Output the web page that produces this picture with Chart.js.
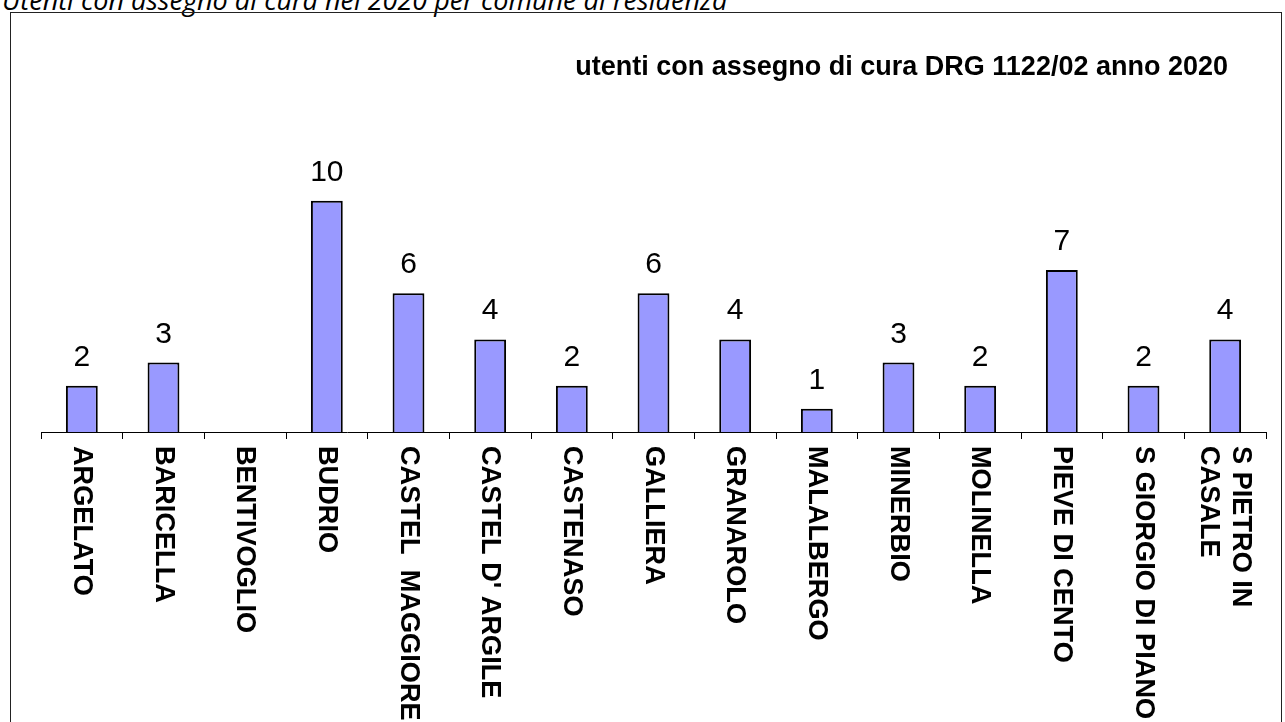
<!DOCTYPE html>
<html>
<head>
<meta charset="utf-8">
<script src="https://cdn.jsdelivr.net/npm/chart.js@4"></script>
<style>
    body { margin: 0; width: 1285px; height: 722px; overflow: hidden; background: #fff; position: relative; }
    #caption {
        position: absolute; left: 2px; top: -14.5px; margin: 0;
        font: italic 27px "Open Sans", sans-serif; line-height: 27px; white-space: nowrap; color: #000;
    }
    #frame { position: absolute; left: 10px; top: 12px; width: 1270px; height: 800px; border: 1px solid #222; }
    #placeholder { position: absolute; left: 0; top: 0; }
</style>
</head>
<body>
<p id="caption">Utenti con assegno di cura nel 2020 per comune di residenza</p>
<div id="frame"></div>
<canvas id="placeholder" width="1285" height="722"></canvas>
<script>
const chartTitle = 'utenti con assegno di cura DRG 1122/02 anno 2020';

const communes = [
    'ARGELATO', 'BARICELLA', 'BENTIVOGLIO', 'BUDRIO', 'CASTEL  MAGGIORE',
    "CASTEL D' ARGILE", 'CASTENASO', 'GALLIERA', 'GRANAROLO', 'MALALBERGO',
    'MINERBIO', 'MOLINELLA', 'PIEVE DI CENTO', 'S GIORGIO DI PIANO', ['S PIETRO IN', 'CASALE']
];

const users = [2, 3, 0, 10, 6, 4, 2, 6, 4, 1, 3, 2, 7, 2, 4];

const ctx = document.getElementById('placeholder');

// value labels, rotated category names and the title
const labelsPlugin = {
    id: 'labelsPlugin',
    afterDatasetsDraw(chart) {
        const c = chart.ctx;
        const meta = chart.getDatasetMeta(0);
        const xScale = chart.scales.x;
        c.save();
        c.fillStyle = '#000';

        c.font = '30px "Liberation Sans", Arial, sans-serif';
        c.textAlign = 'center';
        c.textBaseline = 'alphabetic';
        meta.data.forEach((bar, i) => {
            if (!users[i]) return;
            c.fillText(users[i], bar.x, bar.y - 20);
        });

        c.font = 'bold 28px "Liberation Sans", Arial, sans-serif';
        c.textAlign = 'left';
        c.textBaseline = 'middle';
        const lh = 32;
        communes.forEach((name, i) => {
            const lines = [].concat(name);
            const x = xScale.getPixelForValue(i);
            lines.forEach((line, j) => {
                c.save();
                c.translate(x + (lines.length - 1) * lh / 2 - j * lh, xScale.top + 14);
                c.rotate(Math.PI / 2);
                c.scale(0.97, 1);
                c.fillText(line, 0, 0);
                c.restore();
            });
        });

        c.font = 'bold 27px "Liberation Sans", Arial, sans-serif';
        c.textAlign = 'right';
        c.textBaseline = 'alphabetic';
        c.fillText(chartTitle, 1228, 75);
        c.restore();
    }
};

const data = {
    labels: communes,
    datasets: [
        {
            data: users,
            backgroundColor: '#9999FF',
            borderColor: '#000',
            borderWidth: 2,
            categoryPercentage: 1,
            barPercentage: 0.39,
        }
    ]
};

const config = {
    type: 'bar',
    data: data,
    options: {
        responsive: false,
        animation: false,
        layout: {
            padding: { left: 41, right: 19, top: 154.4, bottom: 0 }
        },
        scales: {
            x: {
                afterFit: (scale) => { scale.height = 290; },
                border: { display: true, color: '#000', width: 1 },
                grid: {
                    offset: true,
                    drawOnChartArea: false,
                    drawTicks: true,
                    tickLength: 7,
                    color: '#000',
                },
                ticks: { display: false },
            },
            y: {
                display: false,
                min: 0,
                max: 12,
            }
        },
        plugins: {
            legend: { display: false },
            tooltip: { enabled: false },
            title: { display: false },
        },
    },
    plugins: [labelsPlugin],
};

const barChart = new Chart(ctx, config);
</script>
</body>
</html>
